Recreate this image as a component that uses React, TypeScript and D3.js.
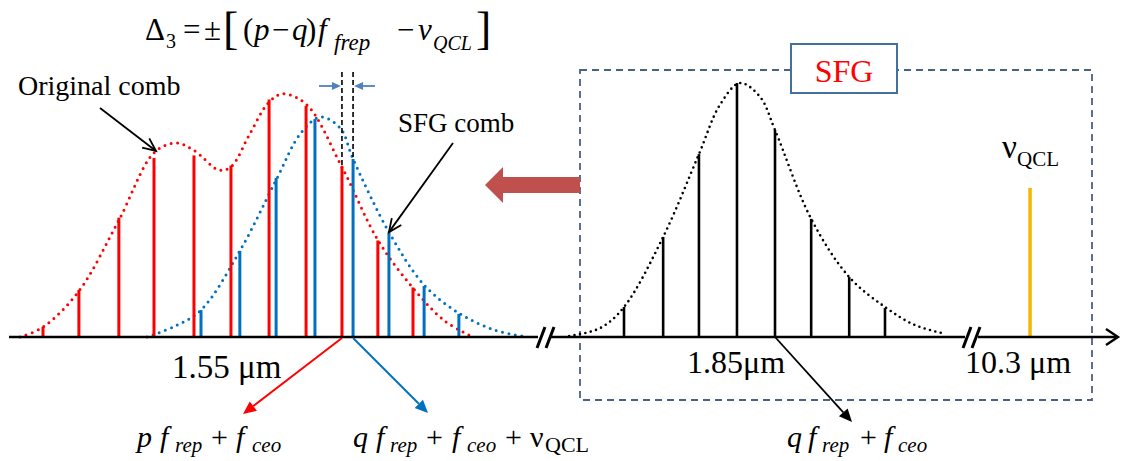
import React from "react";
import * as d3 from "d3";

// ---- data (arbitrary units: mode index in units of f_rep, amplitude in % of SFG peak) ----
const redModes = [0, 0.97, 2.05, 3.0, 4.08, 5.08, 6.11, 7.11, 8.08, 9.05, 10.0];
const redAmps = [4, 18.5, 47, 70.5, 71.5, 67.5, 93.5, 91, 67, 38, 19.5];
const blueModes = [4.27, 5.32, 6.3, 7.35, 8.38, 9.35, 10.3, 11.24];
const blueAmps = [10.6, 33.9, 62.6, 85.8, 70.1, 40.9, 20.1, 9.1];
const redEnvX = [-0.62, 0, 0.97, 2.05, 3.0, 3.59, 4.08, 4.76, 5.08, 5.59, 6.08, 6.46, 7.11, 8.08, 9.05, 10, 10.86, 11.62];
const redEnvY = [0, 3.9, 18.1, 46, 72.5, 76.4, 73.5, 65.7, 67, 80, 92, 95.7, 91.7, 66.9, 38.2, 19.3, 6.3, 0];
const blueEnvX = [2.81, 3.57, 4.27, 5.32, 6.3, 6.95, 7.49, 8.03, 8.38, 9.35, 10.3, 11.24, 12.2, 13.08];
const blueEnvY = [0, 4.3, 10.6, 33.9, 61.8, 79.9, 86.6, 82.3, 70.1, 41.3, 20.5, 9.4, 2.8, 0];
const sfgModes = [0, 1.05, 2.01, 3.03, 4.05, 5.02, 6.04, 7.0];
const sfgAmps = [11.8, 39.4, 72, 100, 81.5, 46.5, 23.6, 11.4];
const sfgEnvX = [-1.47, -0.64, 0, 1.05, 2.01, 2.57, 3.11, 3.65, 4.05, 5.02, 6.04, 7.0, 7.8, 8.63];
const sfgEnvY = [0.4, 3.5, 11.8, 39.4, 72, 91.3, 100, 94.5, 81.5, 46.5, 23.6, 11.8, 4.7, 1.2];
const qclModes = [10.89];
const qclAmps = [58.7];
const axisLabels = ["1.55 μm", "1.85μm", "10.3 μm"];
const combLabels = ["Original comb", "SFG comb"];

const W = 1124;
const H = 461;
const FONT = "Liberation Serif, DejaVu Serif, serif";
const RED = "#FF0000";
const BLUE = "#0070C0";
const GOLD = "#F2B800";

const xNIR = d3.scaleLinear().domain([0, 10]).range([43, 413]);
const xSFG = d3.scaleLinear().domain([0, 7]).range([624, 885]);
const y = d3.scaleLinear().domain([0, 100]).range([337, 83]);
const axisY = y(0);

function envPath(xs: number[], ys: number[], sx: (v: number) => number) {
  const pts: [number, number][] = xs.map((v, i) => [sx(v), y(ys[i])]);
  return d3.line().curve(d3.curveCatmullRom.alpha(0.5))(pts) || "";
}

function Arrow({ x1, y1, x2, y2, color, width = 1.8, head = 12, open = false }: any) {
  const a = Math.atan2(y2 - y1, x2 - x1);
  const hw = head * 0.45;
  const bx = x2 - head * Math.cos(a);
  const by = y2 - head * Math.sin(a);
  const p1: [number, number] = [bx + hw * Math.sin(a), by - hw * Math.cos(a)];
  const p2: [number, number] = [bx - hw * Math.sin(a), by + hw * Math.cos(a)];
  return (
    <g>
      <line x1={x1} y1={y1} x2={open ? x2 : bx} y2={open ? y2 : by} stroke={color} strokeWidth={width} />
      {open ? (
        <path d={`M${p1[0]},${p1[1]}L${x2},${y2}L${p2[0]},${p2[1]}`} fill="none" stroke={color} strokeWidth={width} />
      ) : (
        <path d={`M${p1[0]},${p1[1]}L${x2},${y2}L${p2[0]},${p2[1]}Z`} fill={color} />
      )}
    </g>
  );
}

type Piece = { t: string; x: number; y: number; s: number; i?: boolean; c?: string };
function Pieces({ items }: { items: Piece[] }) {
  return (
    <g fontFamily={FONT}>
      {items.map((p, k) => (
        <text key={k} x={p.x} y={p.y} fontSize={p.s} fontStyle={p.i ? "italic" : "normal"} fill={p.c || "#000"}>
          {p.t}
        </text>
      ))}
    </g>
  );
}

const formula: Piece[] = [
  { t: "Δ", x: 145, y: 40, s: 31 },
  { t: "3", x: 166, y: 48, s: 20 },
  { t: "=", x: 183, y: 40, s: 31 },
  { t: "±", x: 204, y: 40, s: 31 },
  { t: "[", x: 223, y: 44, s: 46 },
  { t: "(", x: 243, y: 40, s: 31 },
  { t: "p", x: 254, y: 40, s: 31, i: true },
  { t: "−", x: 272, y: 40, s: 31 },
  { t: "q", x: 292, y: 40, s: 31, i: true },
  { t: ")", x: 306, y: 40, s: 31 },
  { t: "f", x: 318, y: 40, s: 31, i: true },
  { t: "frep", x: 334, y: 50, s: 23, i: true },
  { t: "−", x: 397, y: 40, s: 31 },
  { t: "ν", x: 418, y: 40, s: 31, i: true },
  { t: "QCL", x: 433, y: 50, s: 20, i: true },
  { t: "]", x: 476, y: 44, s: 46 },
];

const botLeft: Piece[] = [
  { t: "p", x: 137, y: 447, s: 30, i: true },
  { t: "f", x: 160, y: 447, s: 30, i: true },
  { t: "rep", x: 175, y: 452, s: 21, i: true },
  { t: "+", x: 211, y: 447, s: 30 },
  { t: "f", x: 236, y: 447, s: 30, i: true },
  { t: "ceo", x: 252, y: 452, s: 21, i: true },
];
const botMid: Piece[] = [
  { t: "q", x: 353, y: 447, s: 30, i: true },
  { t: "f", x: 376, y: 447, s: 30, i: true },
  { t: "rep", x: 390, y: 452, s: 21, i: true },
  { t: "+", x: 426, y: 447, s: 30 },
  { t: "f", x: 452, y: 447, s: 30, i: true },
  { t: "ceo", x: 467, y: 452, s: 21, i: true },
  { t: "+", x: 505, y: 447, s: 30 },
  { t: "ν", x: 530, y: 447, s: 30 },
  { t: "QCL", x: 545, y: 452, s: 22 },
];
const botRight: Piece[] = [
  { t: "q", x: 787, y: 447, s: 30, i: true },
  { t: "f", x: 808, y: 447, s: 30, i: true },
  { t: "rep", x: 822, y: 452, s: 21, i: true },
  { t: "+", x: 860, y: 447, s: 30 },
  { t: "f", x: 884, y: 447, s: 30, i: true },
  { t: "ceo", x: 898, y: 452, s: 21, i: true },
];

function Slash({ x }: { x: number }) {
  return <line x1={x - 4} y1={axisY + 11} x2={x + 4} y2={axisY - 10} stroke="#000" strokeWidth={3} />;
}

export default function App() {
  const xJr = xNIR(redModes[8]);
  const xJb = xNIR(blueModes[4]);
  return (
    <svg width={W} height={H} style={{ position: "absolute", left: 0, top: 0, display: "block", background: "#fff" }}>
      {/* dashed SFG box */}
      <rect x={580} y={70} width={512} height={330} fill="none" stroke="#4A6283" strokeWidth={1.8} strokeDasharray="7,5" />

      {/* big red block arrow */}
      <path d="M580,177L503,177L503,167L485,185L503,203L503,193L580,193Z" fill="#C0504D" />

      {/* envelopes */}
      <path d={envPath(redEnvX, redEnvY, xNIR)} fill="none" stroke={RED} strokeWidth={3} strokeDasharray="0,6.5" strokeLinecap="round" />
      <path d={envPath(blueEnvX, blueEnvY, xNIR)} fill="none" stroke={BLUE} strokeWidth={3} strokeDasharray="0,6.5" strokeLinecap="round" />
      <path d={envPath(sfgEnvX, sfgEnvY, xSFG)} fill="none" stroke="#000" strokeWidth={2.6} strokeDasharray="0,5.5" strokeLinecap="round" />

      {/* comb lines */}
      {redModes.map((m, i) => (
        <line key={"r" + i} x1={xNIR(m)} x2={xNIR(m)} y1={axisY} y2={y(redAmps[i])} stroke={RED} strokeWidth={3} />
      ))}
      {blueModes.map((m, i) => (
        <line key={"b" + i} x1={xNIR(m)} x2={xNIR(m)} y1={axisY} y2={y(blueAmps[i])} stroke={BLUE} strokeWidth={3} />
      ))}
      {sfgModes.map((m, i) => (
        <line key={"k" + i} x1={xSFG(m)} x2={xSFG(m)} y1={axisY} y2={y(sfgAmps[i])} stroke="#000" strokeWidth={2.6} />
      ))}
      {qclModes.map((m, i) => (
        <line key={"q" + i} x1={xSFG(m)} x2={xSFG(m)} y1={axisY} y2={y(qclAmps[i])} stroke={GOLD} strokeWidth={3.5} />
      ))}

      {/* axis with breaks */}
      <line x1={9} x2={538} y1={axisY} y2={axisY} stroke="#000" strokeWidth={2.6} />
      <line x1={551} x2={965} y1={axisY} y2={axisY} stroke="#000" strokeWidth={2.6} />
      <line x1={978} x2={1117} y1={axisY} y2={axisY} stroke="#000" strokeWidth={2.6} />
      <path d={`M1106,${axisY - 8}L1118,${axisY}L1106,${axisY + 8}`} fill="none" stroke="#000" strokeWidth={2.4} />
      <Slash x={541} />
      <Slash x={550} />
      <Slash x={967} />
      <Slash x={976} />

      {/* delta markers */}
      <line x1={xJr} x2={xJr} y1={72} y2={y(redAmps[8])} stroke="#000" strokeWidth={1.6} strokeDasharray="5,3" />
      <line x1={xJb} x2={xJb} y1={72} y2={y(blueAmps[4])} stroke="#000" strokeWidth={1.6} strokeDasharray="5,3" />
      <Arrow x1={319} y1={86} x2={xJr - 1} y2={86} color="#4F81BD" width={1.8} head={9} />
      <Arrow x1={375} y1={86} x2={xJb + 1} y2={86} color="#4F81BD" width={1.8} head={9} />

      {/* pointer arrows */}
      <Arrow x1={100} y1={108} x2={156} y2={151} color="#000" width={1.8} head={13} open />
      <Arrow x1={453} y1={143} x2={xNIR(blueModes[5])} y2={y(blueAmps[5]) - 1} color="#000" width={1.8} head={13} open />
      <Arrow x1={xJr} y1={axisY + 1} x2={243} y2={414} color={RED} width={2} head={13} />
      <Arrow x1={xJb} y1={axisY + 1} x2={428} y2={413} color={BLUE} width={2} head={13} />
      <Arrow x1={xSFG(sfgModes[4])} y1={axisY} x2={852} y2={422} color="#000" width={1.8} head={13} />

      {/* SFG label box */}
      <rect x={791} y={44} width={106} height={49} fill="#fff" stroke="#41719C" strokeWidth={2} />
      <text x={844} y={82} fontFamily={FONT} fontSize={32} fill={RED} textAnchor="middle">SFG</text>

      {/* texts */}
      <Pieces items={formula} />
      <text x={18} y={95} fontFamily={FONT} fontSize={28}>{combLabels[0]}</text>
      <text x={398} y={132} fontFamily={FONT} fontSize={27}>{combLabels[1]}</text>
      <text x={172} y={378} fontFamily={FONT} fontSize={33}>{axisLabels[0]}</text>
      <text x={687} y={373} fontFamily={FONT} fontSize={32}>{axisLabels[1]}</text>
      <text x={965} y={373} fontFamily={FONT} fontSize={32}>{axisLabels[2]}</text>
      <text x={1002} y={158} fontFamily={FONT} fontSize={33}>ν</text>
      <text x={1017} y={166} fontFamily={FONT} fontSize={21}>QCL</text>
      <Pieces items={botLeft} />
      <Pieces items={botMid} />
      <Pieces items={botRight} />
    </svg>
  );
}
